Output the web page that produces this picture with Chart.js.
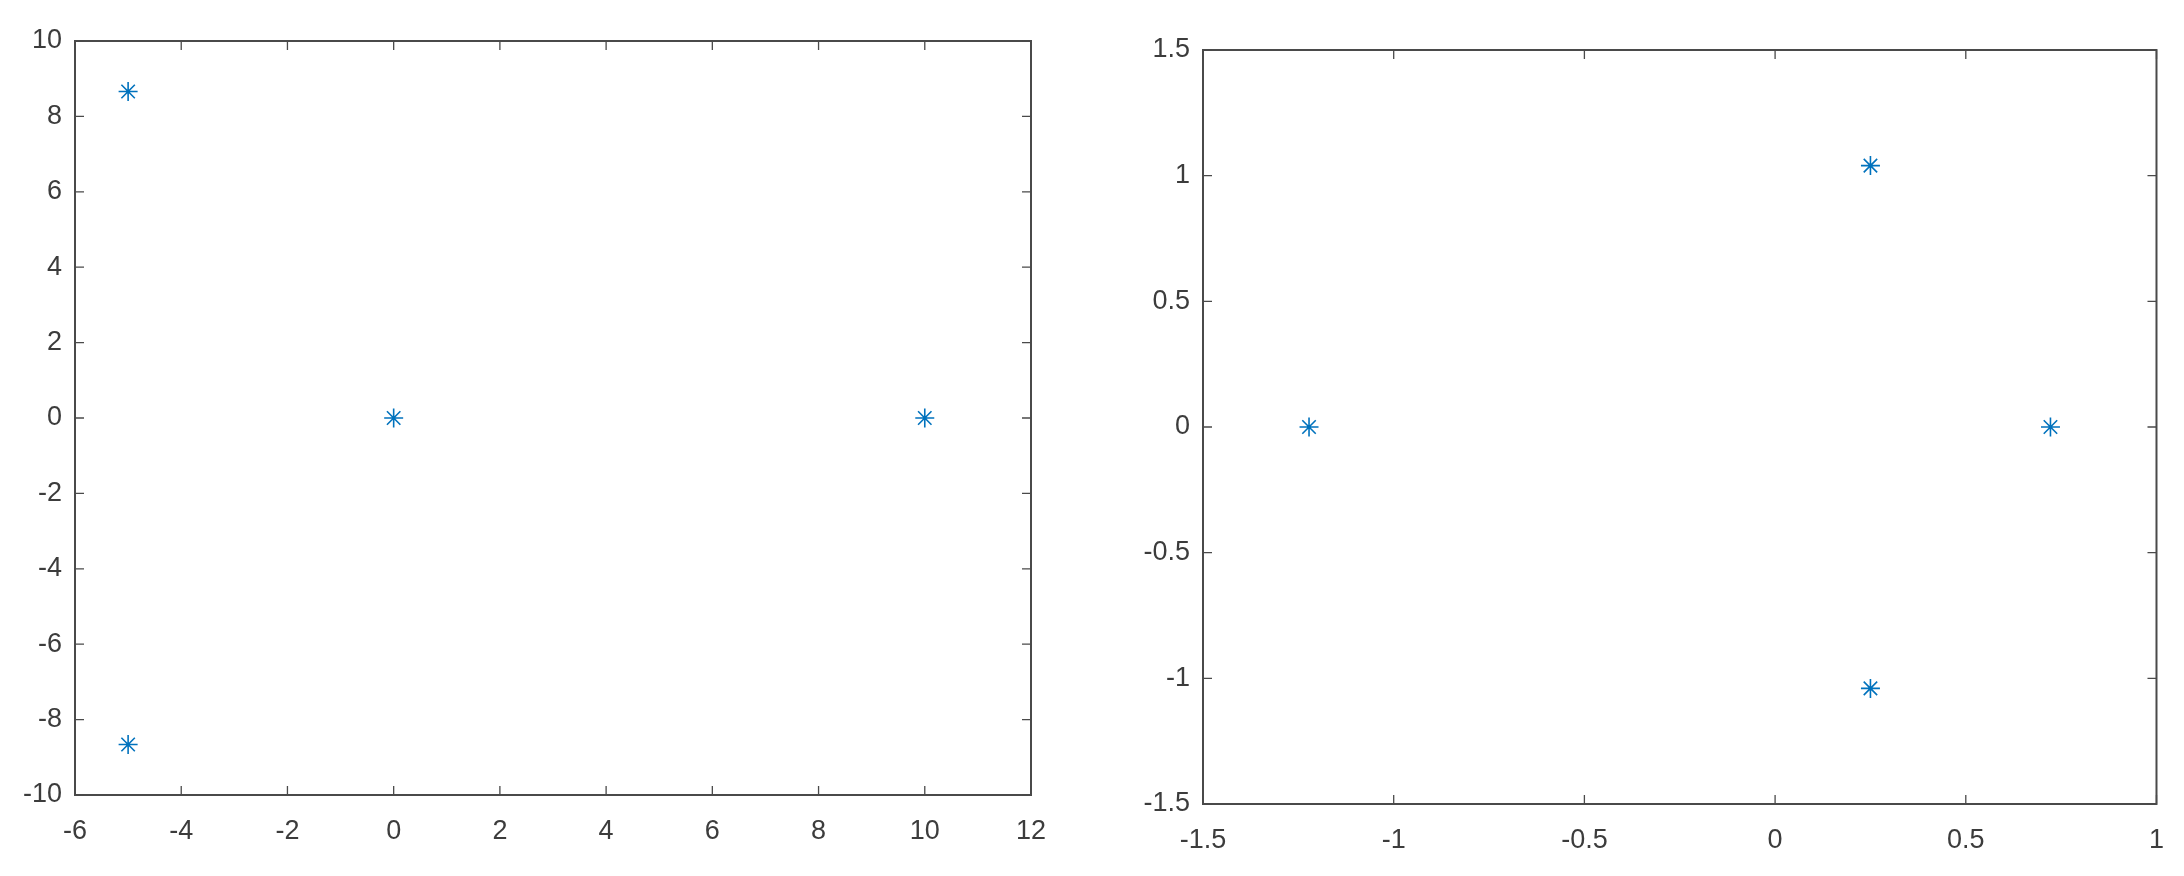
<!DOCTYPE html>
<html>
<head>
<meta charset="utf-8">
<script src="https://cdn.jsdelivr.net/npm/chart.js@4"></script>
<style>
  body { margin: 0; background: #fff; }
  #wrap { position: relative; width: 2184px; height: 876px; }
  .box { position: absolute; top: 0; width: 1092px; height: 876px; }
</style>
</head>
<body>
<div id="wrap">
  <div class="box" style="left:0"><canvas id="left"></canvas></div>
  <div class="box" style="left:1092px"><canvas id="right"></canvas></div>
</div>
<script>
// left plot: points
var leftX = [-5, -5, 0, 10];
var leftY = [8.66, -8.66, 0, 0];
var leftXTicks = [-6, -4, -2, 0, 2, 4, 6, 8, 10, 12];
var leftYTicks = [-10, -8, -6, -4, -2, 0, 2, 4, 6, 8, 10];

// right plot: points
var rightX = [-1.222, 0.25, 0.25, 0.722];
var rightY = [0, 1.04, -1.04, 0];
var rightXTicks = [-1.5, -1, -0.5, 0, 0.5, 1];
var rightYTicks = [-1.5, -1, -0.5, 0, 0.5, 1, 1.5];

var lineCol = '#4a4a4a';
var textCol = '#3c3c3c';
var markCol = '#0072BD';

// box around the plot area plus inward ticks on every side
var boxTicks = {
  id: 'boxTicks',
  afterDraw: function(chart) {
    var ctx = chart.ctx, a = chart.chartArea;
    var xs = chart.scales.x, ys = chart.scales.y;
    var len = 9;
    ctx.save();
    ctx.strokeStyle = lineCol;
    ctx.lineWidth = 2;
    ctx.strokeRect(a.left, a.top, a.right - a.left, a.bottom - a.top);
    ctx.beginPath();
    xs.ticks.forEach(function(t) {
      var px = xs.getPixelForValue(t.value);
      ctx.moveTo(px, a.bottom); ctx.lineTo(px, a.bottom - len);
      ctx.moveTo(px, a.top); ctx.lineTo(px, a.top + len);
    });
    ys.ticks.forEach(function(t) {
      var py = ys.getPixelForValue(t.value);
      ctx.moveTo(a.left, py); ctx.lineTo(a.left + len, py);
      ctx.moveTo(a.right, py); ctx.lineTo(a.right - len, py);
    });
    ctx.lineWidth = 1.3;
    ctx.stroke();
    ctx.restore();
  }
};

function makePlot(id, xs, ys, xTicks, yTicks, yWidth, xHeight, pad) {
  var pts = xs.map(function(v, i) { return { x: v, y: ys[i] }; });
  var font = { family: '"Liberation Sans", Arial, sans-serif', size: 27 };
  return new Chart(document.getElementById(id), {
    type: 'scatter',
    data: {
      datasets: [{
        data: pts,
        pointStyle: 'star',
        pointRadius: 9.5,
        borderColor: markCol,
        backgroundColor: markCol,
        borderWidth: 1.6
      }]
    },
    options: {
      responsive: true,
      maintainAspectRatio: false,
      animation: false,
      layout: { padding: pad },
      plugins: { legend: { display: false }, tooltip: { enabled: false } },
      scales: {
        x: {
          type: 'linear',
          min: xTicks[0], max: xTicks[xTicks.length - 1],
          afterBuildTicks: function(s) { s.ticks = xTicks.map(function(v) { return { value: v }; }); },
          afterFit: function(s) { s.height = xHeight; },
          grid: { drawOnChartArea: false, drawTicks: false, display: false },
          border: { display: false },
          ticks: { font: font, color: textCol, padding: 20, maxRotation: 0,
                   callback: function(v) { return String(v); } }
        },
        y: {
          type: 'linear',
          min: yTicks[0], max: yTicks[yTicks.length - 1],
          afterBuildTicks: function(s) { s.ticks = yTicks.map(function(v) { return { value: v }; }); },
          afterFit: function(s) { s.width = yWidth; },
          grid: { drawOnChartArea: false, drawTicks: false, display: false },
          border: { display: false },
          ticks: { font: font, color: textCol, padding: 13,
                   callback: function(v) { return String(v); } }
        }
      }
    },
    plugins: [boxTicks]
  });
}

makePlot('left', leftX, leftY, leftXTicks, leftYTicks, 75, 81, { left: 0, top: 41, right: 61, bottom: 0 });
makePlot('right', rightX, rightY, rightXTicks, rightYTicks, 111, 72, { left: 0, top: 50, right: 26, bottom: 0 });
</script>
</body>
</html>
